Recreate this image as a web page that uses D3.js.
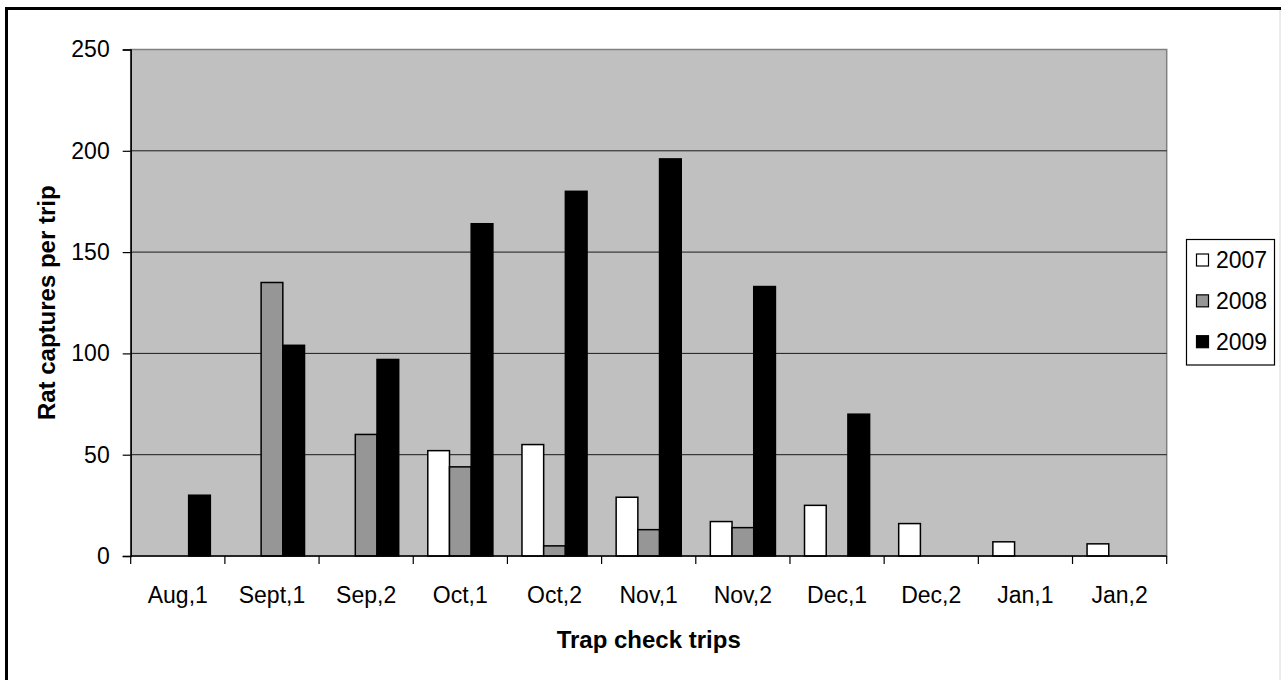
<!DOCTYPE html>
<html>
<head>
<meta charset="utf-8">
<script src="https://cdn.jsdelivr.net/npm/d3@7"></script>
<style>
  html, body { margin: 0; padding: 0; background: #fff; }
  svg { display: block; font-family: Arial, "Liberation Sans", sans-serif; }
</style>
</head>
<body>
<svg id="chart" width="1281" height="680"></svg>
<script>
// Trap check trips (x categories)
const categories = ["Aug,1", "Sept,1", "Sep,2", "Oct,1", "Oct,2", "Nov,1", "Nov,2", "Dec,1", "Dec,2", "Jan,1", "Jan,2"];
// Rat captures per trip, one array per season (null = no trip)
const series2007 = [null, null, null, 52, 55, 29, 17, 25, 16, 7, 6];
const series2008 = [null, 135, 60, 44, 5, 13, 14, null, null, null, null];
const series2009 = [30, 104, 97, 164, 180, 196, 133, 70, null, null, null];
const seriesNames = ["2007", "2008", "2009"];
const yTicks = [0, 50, 100, 150, 200, 250];

const seriesValues = [series2007, series2008, series2009];
const fills = ["#FFFFFF", "#969696", "#000000"];

const svg = d3.select("#chart");
const plot = { left: 130.7, right: 1166.7, top: 49.5, bottom: 556 };

// outer chart frame
svg.append("rect")
  .attr("x", 6.5).attr("y", 8.5)
  .attr("width", 1290).attr("height", 700)
  .attr("fill", "none").attr("stroke", "#000").attr("stroke-width", 3);
svg.append("line")
  .attr("x1", 1280).attr("x2", 1280).attr("y1", 10).attr("y2", 680)
  .attr("stroke", "#d8d8d8").attr("stroke-width", 1);

const x = d3.scaleBand().domain(categories).range([plot.left, plot.right]).paddingInner(0).paddingOuter(0);
const xInner = d3.scaleBand().domain(seriesNames).range([0, x.bandwidth()]).paddingInner(0).paddingOuter(0.67);
const y = d3.scaleLinear().domain([0, 250]).range([plot.bottom, plot.top]);

// plot background
svg.append("rect")
  .attr("x", plot.left).attr("y", plot.top)
  .attr("width", plot.right - plot.left).attr("height", plot.bottom - plot.top)
  .attr("fill", "#C0C0C0").attr("stroke", "#808080").attr("stroke-width", 1.5);

// gridlines
svg.append("g").selectAll("line").data(yTicks.filter(t => t > 0 && t < 250)).join("line")
  .attr("x1", plot.left).attr("x2", plot.right)
  .attr("y1", d => y(d)).attr("y2", d => y(d))
  .attr("stroke", "#1a1a1a").attr("stroke-width", 1);

// bars
const groups = svg.append("g").selectAll("g").data(seriesNames).join("g")
  .attr("fill", (d, i) => fills[i]);
groups.each(function(name, si) {
  const rows = categories.map((c, ci) => ({ c, v: seriesValues[si][ci] })).filter(d => d.v !== null);
  d3.select(this).selectAll("rect").data(rows).join("rect")
    .attr("x", d => x(d.c) + xInner(name))
    .attr("y", d => y(d.v))
    .attr("width", xInner.bandwidth())
    .attr("height", d => y(0) - y(d.v))
    .attr("stroke", "#000").attr("stroke-width", 1.5);
});

// y axis
const yAxis = svg.append("g").attr("transform", `translate(${plot.left},0)`)
  .call(d3.axisLeft(y).tickValues(yTicks).tickSize(8).tickPadding(13));
yAxis.select(".domain").attr("stroke", "#000").attr("stroke-width", 1.5);
yAxis.selectAll(".tick line").attr("stroke", "#000").attr("stroke-width", 1.2);
yAxis.selectAll("text").attr("font-size", 23).attr("fill", "#000")
  .attr("font-family", 'Arial, "Liberation Sans", sans-serif');

// x axis (ticks at category boundaries)
const xAxis = svg.append("g").attr("transform", `translate(0,${plot.bottom})`);
xAxis.append("line").attr("x1", plot.left).attr("x2", plot.right).attr("y1", 0).attr("y2", 0)
  .attr("stroke", "#000").attr("stroke-width", 1.5);
const bounds = categories.map(c => x(c)).concat([plot.right]);
xAxis.selectAll("line.tk").data(bounds).join("line").attr("class", "tk")
  .attr("x1", d => d).attr("x2", d => d).attr("y1", 0).attr("y2", 8)
  .attr("stroke", "#000").attr("stroke-width", 1.2);
xAxis.selectAll("text").data(categories).join("text")
  .attr("x", d => x(d) + x.bandwidth() / 2).attr("y", 47)
  .attr("text-anchor", "middle").attr("font-size", 23).attr("fill", "#000")
  .text(d => d);

// axis titles
svg.append("text")
  .attr("x", (plot.left + plot.right) / 2).attr("y", 648)
  .attr("text-anchor", "middle").attr("font-size", 24).attr("font-weight", "bold")
  .text("Trap check trips");
svg.append("text")
  .attr("transform", `translate(55,${(plot.top + plot.bottom) / 2}) rotate(-90)`)
  .attr("text-anchor", "middle").attr("font-size", 24).attr("font-weight", "bold")
  .text("Rat captures per trip");

// legend
const legend = svg.append("g");
legend.append("rect")
  .attr("x", 1186.5).attr("y", 239.5).attr("width", 88).attr("height", 125.5)
  .attr("fill", "#fff").attr("stroke", "#000").attr("stroke-width", 1.2);
const legendY = d3.scalePoint().domain(seriesNames).range([260, 341.7]);
const items = legend.selectAll("g.item").data(seriesNames).join("g").attr("class", "item")
  .attr("transform", d => `translate(0,${legendY(d)})`);
items.append("rect")
  .attr("x", 1196.5).attr("y", -6).attr("width", 12).attr("height", 12)
  .attr("fill", (d, i) => fills[i]).attr("stroke", "#000").attr("stroke-width", 1.2);
items.append("text")
  .attr("x", 1216).attr("y", 0).attr("dy", "0.36em")
  .attr("font-size", 23).attr("fill", "#000")
  .text(d => d);
</script>
</body>
</html>
